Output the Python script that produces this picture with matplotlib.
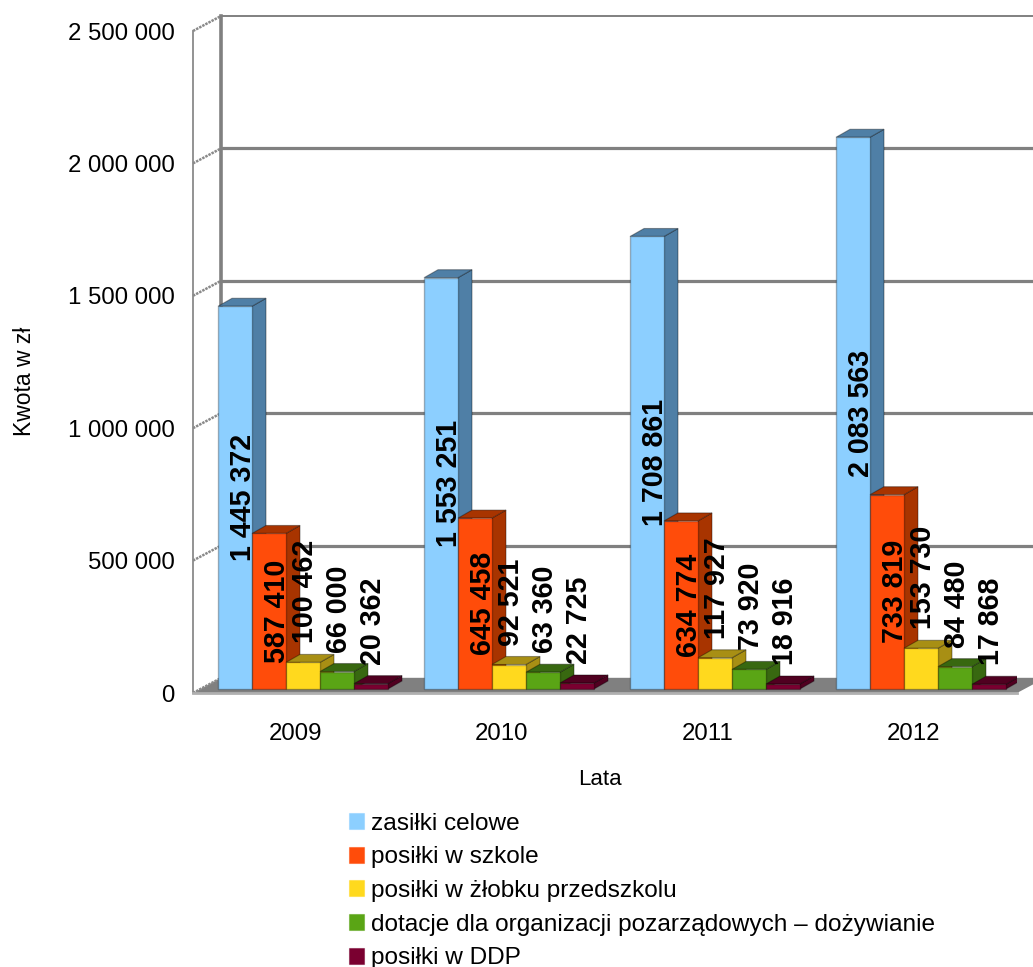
import matplotlib
matplotlib.use("Agg")
import matplotlib.pyplot as plt
from matplotlib.patches import Polygon, Patch
from matplotlib.colors import to_rgba

plt.rcParams['font.family'] = ['Liberation Sans', 'DejaVu Sans']

years = ['2009', '2010', '2011', '2012']
series = ['zasiłki celowe', 'posiłki w szkole', 'posiłki w żłobku przedszkolu',
          'dotacje dla organizacji pozarządowych – dożywianie', 'posiłki w DDP']
zasilki = [1445372, 1553251, 1708861, 2083563]
szkola = [587410, 645458, 634774, 733819]
zlobek = [100462, 92521, 117927, 153730]
dotacje = [66000, 63360, 73920, 84480]
ddp = [20362, 22725, 18916, 17868]
values = [zasilki, szkola, zlobek, dotacje, ddp]
front_colors = ['#8CCFFF', '#FF4C0A', '#FFD91E', '#5AA515', '#7A0030']
side_colors = ['#4F7FA6', '#A83400', '#A88F14', '#386810', '#500020']
yticks = [0, 500000, 1000000, 1500000, 2000000, 2500000]
ytick_labels = ['0', '500 000', '1 000 000', '1 500 000', '2 000 000', '2 500 000']

W, H = 1033, 967
fig = plt.figure(figsize=(W / 100, H / 100), dpi=100)
L, R, T, B = 193, 1017, 31, 693
ax = fig.add_axes([L / W, 1 - B / H, (R - L) / W, (B - T) / H])
ax.set_xlim(-0.5, 3.5)
ax.set_ylim(0, 2500000)
PX = 4 / 824          # data units per pixel, x
PY = 2500000 / 662    # data units per pixel, y

for s in ax.spines.values():
    s.set_visible(False)
ax.set_xticks(range(4), years, fontsize=17.3)
ax.set_yticks(yticks, ytick_labels, fontsize=17.3)
ax.tick_params(axis='x', length=0, pad=21.5)
ax.tick_params(axis='y', length=0, pad=13)
ax.set_xlabel('Lata', fontsize=16, va='top')
ax.xaxis.set_label_coords((600 - L) / (R - L), -(769 - B) / (B - T))
ax.set_ylabel('Kwota w zł', fontsize=16.5, va='center')
ax.yaxis.set_label_coords((25 - L) / (R - L), (B - 381) / (B - T))

# walls and floor
WX, WY = 28 * PX, 15 * PY
GRID = '#808080'
xl, xr = -0.5, 3.5
ax.add_patch(Polygon([(xl, 0), (xr, 0), (xr + WX, WY), (xl + WX, WY)], closed=True,
                     fc=GRID, ec='none', clip_on=False, zorder=1))
ax.plot([xl, xr], [0, 0], color='#b0b0b0', lw=2, clip_on=False, zorder=1.1)
for y in yticks:
    ax.plot([xl + WX, xr + WX], [y + WY, y + WY], color=GRID, lw=(1.4 if y == 2500000 else 2.3) if y else 1,
            clip_on=False, zorder=1, solid_capstyle='butt')
    ax.plot([xl, xl + WX], [y, y + WY], color='#8a8a8a', lw=1.8, ls=(0, (1, 0.4)),
            clip_on=False, zorder=1)
ax.plot([xl + WX, xl + WX], [WY, 2500000 + WY], color=GRID, lw=2.6, clip_on=False, zorder=1)
ax.plot([xl, xl], [0, 2500000], color='#8a8a8a', lw=1.3, clip_on=False, zorder=1)

# 3-D bars
bw = 34 / 206
DX, DY = 14 * PX, 8 * PY
SX, SY = 7 * PX, 4 * PY     # shift of the bar row into the box
z = 3
for si, vals in enumerate(values):
    for yi, v in enumerate(vals):
        x0 = yi - 2.5 * bw + si * bw + SX
        x1 = x0 + bw
        y0, y1 = SY, SY + v
        fc, sc = front_colors[si], side_colors[si]
        edge = to_rgba('#000000', 0.28)
        ax.add_patch(Polygon([(x1, y0), (x1 + DX, y0 + DY), (x1 + DX, y1 + DY), (x1, y1)],
                             closed=True, fc=sc, ec=to_rgba('#000000', 0.35), lw=0.8, zorder=z))
        ax.add_patch(Polygon([(x0, y1), (x1, y1), (x1 + DX, y1 + DY), (x0 + DX, y1 + DY)],
                             closed=True, fc=sc, ec=to_rgba('#000000', 0.35), lw=0.8, zorder=z))
        ax.add_patch(Polygon([(x0, y0), (x1, y0), (x1, y1), (x0, y1)],
                             closed=True, fc=fc, ec=edge, lw=1.0, zorder=z + 0.1))
        z += 0.2

# data labels
for si, vals in enumerate(values):
    for yi, v in enumerate(vals):
        cx = yi - 2.5 * bw + (si + 0.5) * bw + SX
        txt = f'{v:,}'.replace(',', ' ')
        if si < 2:
            ax.annotate(txt, (cx, SY + v / 2), xytext=(8 * 0.72, 0), textcoords='offset points',
                        rotation=90, ha='center', va='center', fontsize=20.6, fontweight='bold',
                        color='black', zorder=50, annotation_clip=False)
        else:
            ax.annotate(txt, (cx, SY + v), xytext=(2 * 0.72, 19 * 0.72), textcoords='offset points',
                        rotation=90, ha='center', va='bottom', fontsize=20.6, fontweight='bold',
                        color='black', zorder=50, annotation_clip=False)

handles = [Patch(fc=c, ec=to_rgba(c, 0.5), lw=0.8) for c in front_colors]
fig.legend(handles, series, loc='upper left', bbox_to_anchor=(349 / W, 1 - 812.5 / H),
           bbox_transform=fig.transFigure, frameon=False, fontsize=17.6, borderpad=0, borderaxespad=0,
           handlelength=0.62, handleheight=0.62, handletextpad=0.28, labelspacing=0.48)

fig.savefig('out.png', dpi=100)
